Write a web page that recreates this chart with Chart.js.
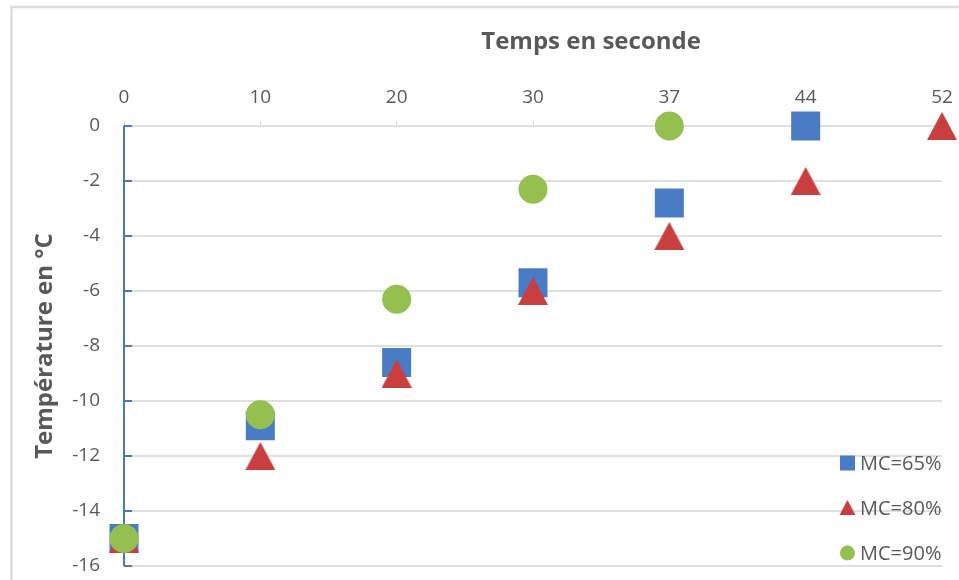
<!DOCTYPE html>
<html>
<head>
<meta charset="utf-8">
<script src="https://cdn.jsdelivr.net/npm/chart.js@4/dist/chart.umd.min.js"></script>
<style>
  html, body { margin: 0; padding: 0; background: #fff; overflow: hidden; }
  #wrap { width: 959px; height: 580px; position: relative; }
</style>
</head>
<body>
<div id="wrap"><canvas id="c" width="959" height="580"></canvas></div>
<script>
// Time steps (seconds) and measured temperatures (°C)
const categories = ['0', '10', '20', '30', '37', '44', '52'];
const mc65 = [-15, -10.9, -8.6, -5.7, -2.8, 0, null];
const mc80 = [-15, -12, -9, -6, -4, -2, 0];
const mc90 = [-15, -10.5, -6.3, -2.3, 0, null, null];
const seriesNames = ['MC=65%', 'MC=80%', 'MC=90%'];
const seriesColors = ['#4a7cc6', '#c93f3f', '#95bf4e'];
const yMin = -16, yMax = 0, yStep = 2;
const xTitle = 'Temps en seconde';
const yTitle = 'Température en °C';

const FONT = "'Open Sans', 'Noto Sans', sans-serif";
const TEXT = '#595959';
const GRID = '#e0e0e0';
const AXIS_BLUE = '#4a78b2';

// Triangle marker whose bounding box is centred on the value
function triangleImage(w, h, color) {
  const c = document.createElement('canvas');
  c.width = w; c.height = h;
  const g = c.getContext('2d');
  g.fillStyle = color;
  g.beginPath();
  g.moveTo(w / 2, 0);
  g.lineTo(w, h);
  g.lineTo(0, h);
  g.closePath();
  g.fill();
  return c;
}

// Outer chart frame
const framePlugin = {
  id: 'frame',
  beforeDraw(chart) {
    const ctx = chart.ctx;
    ctx.save();
    ctx.fillStyle = '#fff';
    ctx.fillRect(0, 0, chart.width, chart.height);
    ctx.strokeStyle = '#dcdcdc';
    ctx.lineWidth = 2.5;
    ctx.strokeRect(11.5, 7, chart.width + 50, chart.height + 50);
    ctx.restore();
  }
};

// Vertical axis line with short blue tick marks on its inner side
const innerTicksPlugin = {
  id: 'innerTicks',
  beforeDatasetsDraw(chart) {
    const a = chart.chartArea;
    const y = chart.scales.y;
    const ctx = chart.ctx;
    ctx.save();
    ctx.strokeStyle = AXIS_BLUE;
    ctx.lineWidth = 2;
    ctx.beginPath();
    ctx.moveTo(a.left, a.top);
    ctx.lineTo(a.left, a.bottom);
    ctx.stroke();
    y.ticks.forEach(t => {
      const py = Math.round(y.getPixelForValue(t.value));
      ctx.beginPath();
      ctx.moveTo(a.left, py);
      ctx.lineTo(a.left + 8, py);
      ctx.stroke();
    });
    ctx.restore();
  }
};

// Horizontal axis title placed above the top tick labels
const xTitlePlugin = {
  id: 'xTitle',
  afterDraw(chart) {
    const a = chart.chartArea;
    const ctx = chart.ctx;
    ctx.save();
    ctx.font = "bold 24px " + FONT;
    ctx.fillStyle = TEXT;
    ctx.textAlign = 'center';
    ctx.textBaseline = 'middle';
    ctx.fillText(xTitle, a.left + (a.right - a.left) * 0.571, 42);
    ctx.restore();
  }
};

// Legend stacked in the lower right corner of the plot
const legendPlugin = {
  id: 'cornerLegend',
  afterDraw(chart) {
    const a = chart.chartArea;
    const ctx = chart.ctx;
    ctx.save();
    ctx.font = "20px " + FONT;
    ctx.textBaseline = 'middle';
    ctx.textAlign = 'left';
    chart.data.datasets.forEach((ds, i) => {
      const cy = a.bottom - 103 + i * 45;
      const ix = a.right - 102;
      ctx.fillStyle = seriesColors[i];
      ctx.beginPath();
      if (i === 0) {
        ctx.rect(ix, cy - 7.5, 15, 15);
      } else if (i === 1) {
        ctx.moveTo(ix + 7.5, cy - 8);
        ctx.lineTo(ix + 15.5, cy + 7);
        ctx.lineTo(ix - 0.5, cy + 7);
        ctx.closePath();
      } else {
        ctx.arc(ix + 7.5, cy, 7.5, 0, Math.PI * 2);
      }
      ctx.fill();
      ctx.fillStyle = TEXT;
      ctx.fillText(ds.label, ix + 20, cy + 1);
    });
    ctx.restore();
  }
};

const pointStyles = ['rect', triangleImage(30, 28, seriesColors[1]), 'circle'];
const pointRadii = [20.5, 15, 14.5];
const seriesData = [mc65, mc80, mc90];

new Chart(document.getElementById('c'), {
  type: 'line',
  data: {
    labels: categories,
    datasets: seriesData.map((d, i) => ({
      label: seriesNames[i],
      data: d,
      showLine: false,
      pointStyle: pointStyles[i],
      pointRadius: pointRadii[i],
      pointBackgroundColor: seriesColors[i],
      pointBorderWidth: 0,
      backgroundColor: seriesColors[i],
      borderColor: seriesColors[i],
      clip: false,
      order: 2 - i
    }))
  },
  options: {
    responsive: false,
    devicePixelRatio: 1,
    animation: false,
    events: [],
    layout: { autoPadding: false, padding: { left: 12, top: 0, right: 17, bottom: 14 } },
    plugins: {
      legend: { display: false },
      tooltip: { enabled: false }
    },
    scales: {
      x: {
        type: 'category',
        position: 'top',
        offset: false,
        afterFit(scale) {
          scale.height = 126;
          scale.paddingLeft = 0;
          scale.paddingRight = 0;
        },
        grid: {
          drawOnChartArea: false,
          drawTicks: true,
          tickLength: 5,
          tickColor: '#d6d6d6',
          tickWidth: 1
        },
        border: { display: true, color: GRID, width: 2 },
        ticks: {
          color: TEXT,
          font: { family: FONT, size: 19 },
          padding: 12,
          maxRotation: 0,
          autoSkip: false
        }
      },
      y: {
        min: yMin,
        max: yMax,
        afterFit(scale) {
          scale.width = 112;
          scale.paddingTop = 0;
          scale.paddingBottom = 0;
        },
        grid: {
          color: GRID,
          lineWidth: 2,
          drawTicks: false
        },
        border: { display: false },
        ticks: {
          stepSize: yStep,
          color: TEXT,
          font: { family: FONT, size: 19 },
          padding: 24
        },
        title: {
          display: true,
          text: yTitle,
          color: TEXT,
          font: { family: FONT, size: 24, weight: 'bold' },
          padding: { top: 19, bottom: 0 }
        }
      }
    }
  },
  plugins: [framePlugin, innerTicksPlugin, xTitlePlugin, legendPlugin]
});
</script>
</body>
</html>
